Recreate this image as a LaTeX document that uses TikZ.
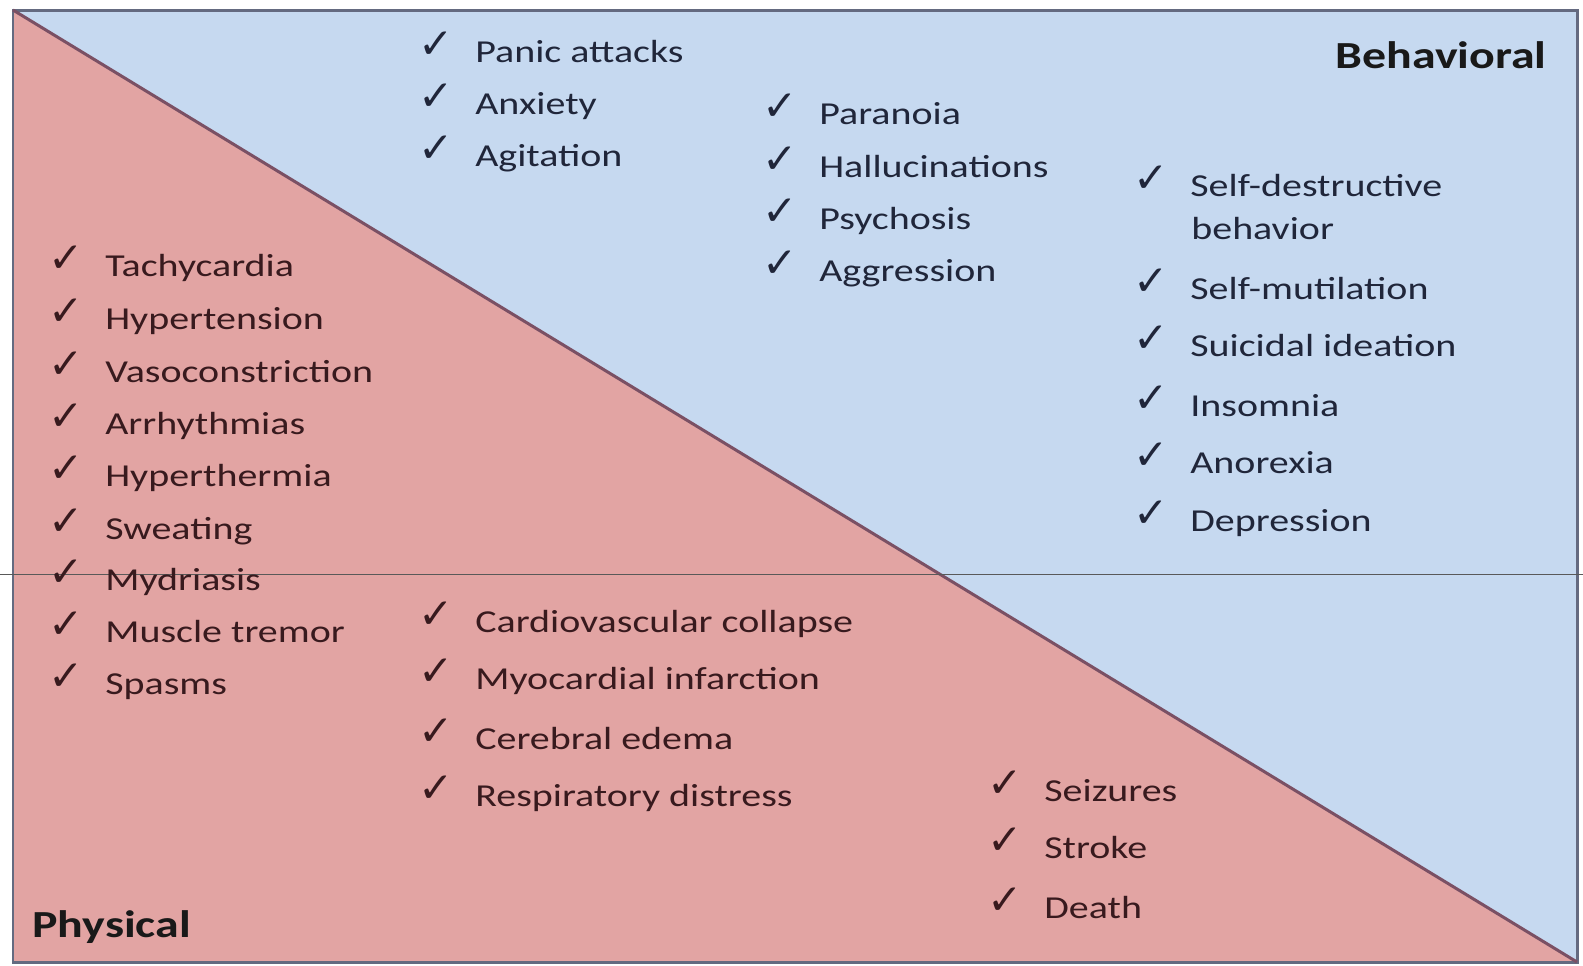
\documentclass[tikz,border=0pt]{standalone}
\usepackage{fontspec}
\setmainfont{Carlito}[FakeStretch=1.25]
\newfontfamily\tickfont{DejaVu Sans}
\usepackage{tikz}

\definecolor{behavfill}{RGB}{198,217,240}
\definecolor{physfill}{RGB}{226,164,163}
\definecolor{framecol}{RGB}{100,106,128}
\definecolor{diagcol}{RGB}{122,80,100}
\definecolor{behavtext}{RGB}{32,38,58}
\definecolor{phystext}{RGB}{56,26,30}

\newcommand{\chk}{\makebox[1.14cm][l]{\raisebox{0.08cm}{\tickfont\bfseries\fontsize{24}{24}\selectfont ✓}}}

\begin{document}
\begin{tikzpicture}[x=0.02cm, y=-0.02cm,
	item/.style={anchor=base west, inner sep=0pt, font=\fontsize{18.2}{22}\selectfont},
	behav/.style={item, text=behavtext},
	phys/.style={item, text=phystext},
	heading/.style={inner sep=0pt, font=\bfseries\fontsize{21.8}{26}\selectfont}]
	
	\useasboundingbox (0,0) rectangle (1583,965);
	
	\coordinate (tl) at (13, 10);
	\coordinate (tr) at (1577, 10);
	\coordinate (bl) at (13, 962);
	\coordinate (br) at (1577, 962);
	\coordinate (rulel) at (0, 574);
	\coordinate (ruler) at (1583, 574);
	
	\fill[behavfill] (tl) -- (tr) -- (br) -- cycle;
	\fill[physfill] (tl) -- (bl) -- (br) -- cycle;
	\draw[framecol, line width=0.06cm] (tl) rectangle (br);
	\draw[diagcol, line width=0.06cm] (tl) -- (br);
	\draw[black!65, line width=0.02cm] (rulel) -- (ruler);
	
	\node[heading, anchor=base east, text=black!90] (behavioral) at (1547, 68) {Behavioral};
	\node[heading, anchor=base west, text=black!90] (physical) at (32, 937) {Physical};
	
	\node[behav] (panic) at (418, 62)  {\chk Panic attacks};
	\node[behav] (anxiety) at (418, 114)  {\chk Anxiety};
	\node[behav] (agitation) at (418, 166)  {\chk Agitation};
	
	\node[behav] (paranoia) at (762, 124)  {\chk Paranoia};
	\node[behav] (halluc) at (762, 177)  {\chk Hallucinations};
	\node[behav] (psychosis) at (762, 229)  {\chk Psychosis};
	\node[behav] (aggression) at (762, 281)  {\chk Aggression};
	
	\node[behav] (selfdestr) at (1133, 196)  {\chk Self-destructive};
	\node[behav] (selfdestrb) at (1191, 239)  {behavior};
	\node[behav] (selfmut) at (1133, 299)  {\chk Self-mutilation};
	\node[behav] (suicidal) at (1133, 356)  {\chk Suicidal ideation};
	\node[behav] (insomnia) at (1133, 416)  {\chk Insomnia};
	\node[behav] (anorexia) at (1133, 473)  {\chk Anorexia};
	\node[behav] (depression) at (1133, 531)  {\chk Depression};
	
	\node[phys] (tachy) at (48, 276)  {\chk Tachycardia};
	\node[phys] (hypert) at (48, 329)  {\chk Hypertension};
	\node[phys] (vaso) at (48, 382)  {\chk Vasoconstriction};
	\node[phys] (arrhy) at (48, 434)  {\chk Arrhythmias};
	\node[phys] (hyperth) at (48, 486)  {\chk Hyperthermia};
	\node[phys] (sweat) at (48, 539)  {\chk Sweating};
	\node[phys] (mydr) at (48, 590)  {\chk Mydriasis};
	\node[phys] (tremor) at (48, 642)  {\chk Muscle tremor};
	\node[phys] (spasms) at (48, 694)  {\chk Spasms};
	
	\node[phys] (cardio) at (418, 632)  {\chk Cardiovascular collapse};
	\node[phys] (myoc) at (418, 689)  {\chk Myocardial infarction};
	\node[phys] (edema) at (418, 749)  {\chk Cerebral edema};
	\node[phys] (resp) at (418, 806)  {\chk Respiratory distress};
	
	\node[phys] (seizures) at (987, 801)  {\chk Seizures};
	\node[phys] (stroke) at (987, 858)  {\chk Stroke};
	\node[phys] (death) at (987, 918)  {\chk Death};
	
\end{tikzpicture}
\end{document}
